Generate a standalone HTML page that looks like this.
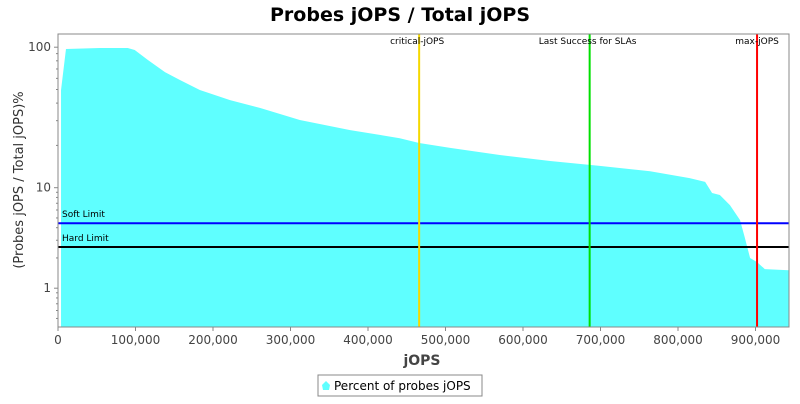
<!DOCTYPE html>
<html><head><meta charset="utf-8"><style>
body{margin:0;background:#fff;width:800px;height:400px;overflow:hidden;font-family:"DejaVu Sans","Liberation Sans",sans-serif}
</style></head><body>
<svg id="c" width="800" height="400" xmlns="http://www.w3.org/2000/svg">
<text x="400" y="21" text-anchor="middle" font-size="19" font-weight="bold" fill="#000">Probes jOPS / Total jOPS</text>
<text transform="translate(23,180) rotate(-90)" text-anchor="middle" font-size="13" fill="#333">(Probes jOPS / Total jOPS)%</text>
<text x="422" y="365" text-anchor="middle" font-size="14" font-weight="bold" fill="#444">jOPS</text>
<g>
<rect x="318" y="375" width="164" height="21" fill="#fff" stroke="#888"/>
<path d="M322,385 l4,-4 l4,4 l-1,5 h-6z" fill="#5fffff"/>
<text x="334" y="390" font-size="12" fill="#000">Percent of probes jOPS</text>
</g>
</svg>
<script>
const xVals=[3900,10300,54000,90000,99000,116000,138000,157000,183000,222000,261000,312000,377000,441000,466000,506000,570000,635000,699000,764000,815000,835000,844000,854000,867000,880000,886000,893000,902000,912000,943000];
const yVals=[49.5,97,98.6,98.6,95.5,81,66.5,58.5,49.6,42,36.9,30.3,25.7,22.5,20.8,19.2,17.1,15.5,14.3,13.1,11.7,11,8.86,8.46,6.7,4.77,3.23,2.0,1.82,1.55,1.51];
const xTicks=[0,100000,200000,300000,400000,500000,600000,700000,800000,900000];
const yTicks=[1,10,100];
const markerNames=["critical-jOPS","Last Success for SLAs","max-jOPS"];
const markerVals=[466000,686000,902000];
const markerColors=["#f5d800","#00e000","#ff0000"];
const limitNames=["Soft Limit","Hard Limit"];
const limitVals=[4.43,2.57];
const limitColors=["#0000ff","#000000"];
const L=58,R=789,T=34,B=327;
const sx=v=>L+v/100000*77.5;
const sy=v=>{const l=Math.log10(v);return l>=1?187.7-(l-1)*140.5:187.7+(1-l)*100.5;};
const svg=document.getElementById('c');const NS="http://www.w3.org/2000/svg";
function mk(t,a,p){const e=document.createElementNS(NS,t);for(const k in a)e.setAttribute(k,a[k]);(p||svg).appendChild(e);return e;}
const bg=mk('rect',{x:L,y:T,width:R-L,height:B-T,fill:'#fff',stroke:'#888'});


let d=`M${sx(xVals[0])},${B}`;
xVals.forEach((x,i)=>{d+=` L${sx(x)},${sy(yVals[i])}`;});
d+=` L${R},${sy(yVals[yVals.length-1])} L${R},${B} Z`;
const area=mk('path',{d:d,fill:'#5fffff'});


limitVals.forEach((v,i)=>{const y=sy(v);
const ln=mk('line',{x1:L,x2:R,y1:y,y2:y,stroke:limitColors[i],'stroke-width':2});


const t=mk('text',{x:L+4,y:y-6,'font-size':9,fill:'#000'});t.textContent=limitNames[i];

});
markerVals.forEach((v,i)=>{const x=sx(v);
const ln=mk('line',{x1:x,x2:x,y1:T,y2:B,stroke:markerColors[i],'stroke-width':2});


const t=mk('text',{x:x-2,y:T+10,'font-size':9,fill:'#000','text-anchor':'end'});t.textContent=markerNames[i];
if(i==2){t.setAttribute('text-anchor','middle');t.setAttribute('x',x);}
else{t.setAttribute('text-anchor','middle');}

});
const fr=mk('rect',{x:L,y:T,width:R-L,height:B-T,fill:'none',stroke:'#888'});


xTicks.forEach(v=>{const x=sx(v);
const tk=mk('line',{x1:x,x2:x,y1:B,y2:B+4,stroke:'#888'});


const t=mk('text',{x:x,y:B+17,'font-size':12,fill:'#444','text-anchor':'middle'});t.textContent=v.toLocaleString('en-US');

});
[0.5,0.6,0.7,0.8,0.9,2,3,4,5,6,7,8,9,20,30,40,50,60,70,80,90].forEach(v=>{const y=sy(v);if(y>B)return;
const tk=mk('line',{x1:L-2,x2:L,y1:y,y2:y,stroke:'#888'});

});
yTicks.forEach(v=>{const y=sy(v);
const tk=mk('line',{x1:L-4,x2:L,y1:y,y2:y,stroke:'#888'});


const t=mk('text',{x:L-7,y:y+4,'font-size':12,fill:'#444','text-anchor':'end'});t.textContent=v;

});
</script>
</body></html>
